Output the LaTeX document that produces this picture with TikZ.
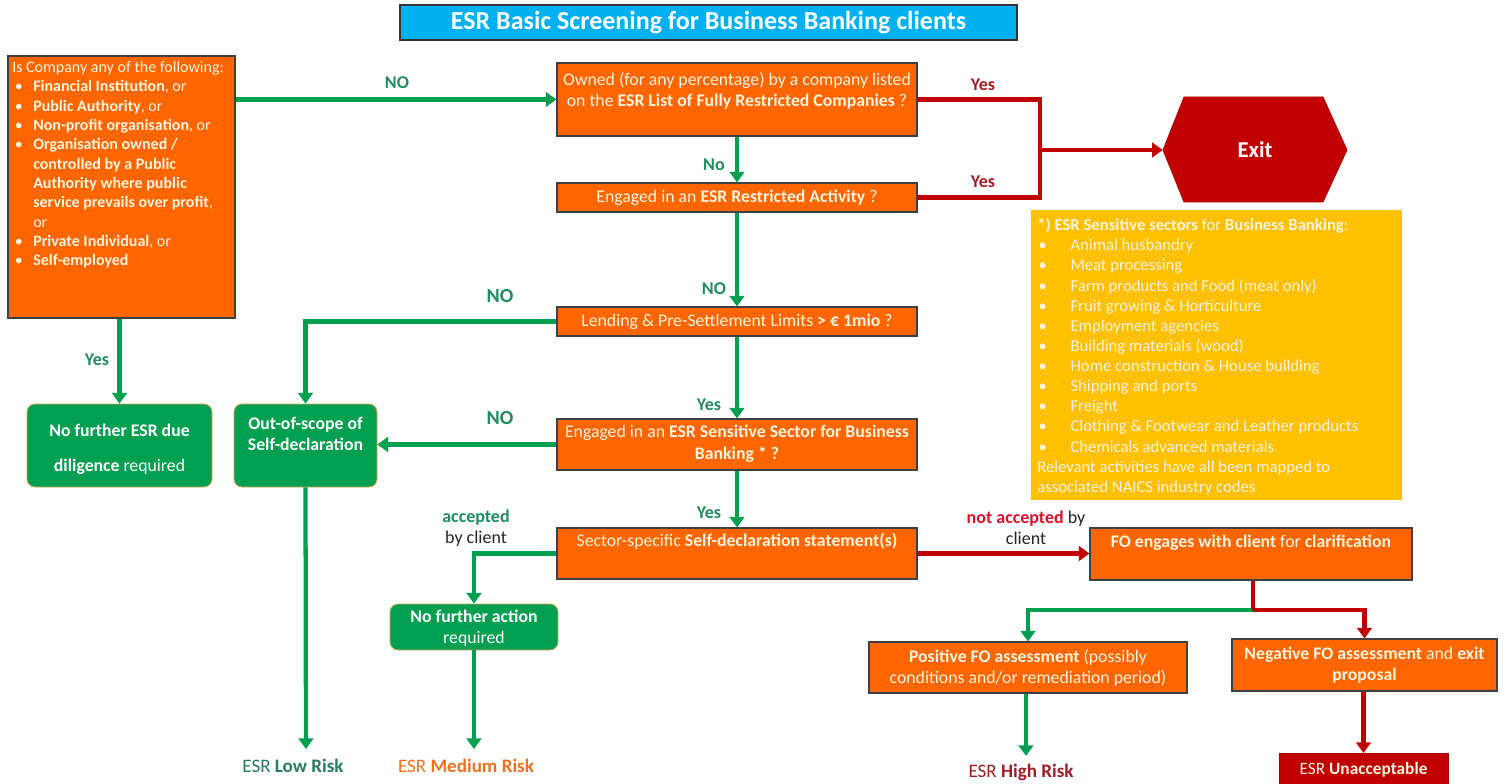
\documentclass[tikz,border=0pt]{standalone}
\usepackage{fontspec}
\setmainfont{Carlito}
\usetikzlibrary{arrows.meta,calc}
\definecolor{orgF}{RGB}{255,102,0}
\definecolor{grn}{RGB}{0,160,80}
\definecolor{gbor}{RGB}{214,170,80}
\definecolor{cream}{RGB}{255,244,222}
\definecolor{lgreen}{RGB}{32,140,96}
\definecolor{dred}{RGB}{192,0,0}
\definecolor{lred}{RGB}{160,30,40}
\definecolor{brred}{RGB}{220,16,40}
\definecolor{yel}{RGB}{255,192,0}
\definecolor{cyanT}{RGB}{0,176,240}
\definecolor{medorg}{RGB}{240,112,32}
\definecolor{lowgrn}{RGB}{40,125,95}
\newcommand{\bl}{\makebox[15.75pt][l]{\hspace{2pt}•}}
\newcommand{\blY}{\makebox[25pt][l]{\hspace{1pt}•}}
\tikzset{
  obox/.style={draw=black!75, fill=orgF, line width=0.8pt, inner sep=0pt},
  gbox/.style={draw=gbor, fill=grn, rounded corners=6pt, line width=0.6pt, inner sep=0pt},
  otext/.style={text=cream, font=\fontsize{13.3}{15.5}\selectfont, align=center, inner sep=0pt},
  gtext/.style={text=white, font=\bfseries\fontsize{13.3}{16}\selectfont, align=center, inner sep=0pt},
  glab/.style={text=lgreen, font=\bfseries\fontsize{13.5}{16}\selectfont, inner sep=0pt},
  rlab/.style={text=lred, font=\bfseries\fontsize{13.5}{16}\selectfont, inner sep=0pt},
  blab/.style={text=black!85, font=\fontsize{13.5}{16}\selectfont, inner sep=0pt, align=center},
  gline/.style={draw=grn, line width=3.2pt},
  rline/.style={draw=dred, line width=3.2pt},
  garrow/.style={gline, -{Triangle[length=8pt,width=11pt]}},
  rarrow/.style={rline, -{Triangle[length=8pt,width=11pt]}},
  outlab/.style={inner sep=0pt, font=\fontsize{14.3}{16}\selectfont},
}
\begin{document}
\begin{tikzpicture}[x=0.75pt,y=-0.75pt]
\useasboundingbox (0,0) rectangle (1510,784);
\fill[white] (0,0) rectangle (1510,784);

% title
\node[draw=black!80, fill=cyanT, line width=0.8pt, minimum width=462.75pt, minimum height=26.25pt, inner sep=0pt,
  text=white, font=\bfseries\fontsize{19.5}{22}\selectfont] (title) at (708.5,22.5) {ESR Basic Screening for Business Banking clients};

% left box
\node[obox, minimum width=170.25pt, minimum height=196.5pt] (left) at (121.5,187) {};
\node[text=cream, font=\fontsize{12}{14.5}\selectfont, align=left, inner sep=0pt, anchor=north west] (lefttxt) at (12,61) {%
Is Company any of the following:\\
\bl\textbf{Financial Institution}, or\\
\bl\textbf{Public Authority}, or\\
\bl\textbf{Non-profit organisation}, or\\
\bl\textbf{Organisation owned /}\\
\hspace*{15.75pt}\textbf{controlled by a Public}\\
\hspace*{15.75pt}\textbf{Authority where public}\\
\hspace*{15.75pt}\textbf{service prevails over profit},\\
\hspace*{15.75pt}or\\
\bl\textbf{Private Individual}, or\\
\bl\textbf{Self-employed}};

% main column boxes
\node[obox, minimum width=270pt, minimum height=54.75pt] (A) at (737,99.5) {};
\node[otext] (Atxt) at (737,91) {Owned (for any percentage) by a company listed\\ on the \textbf{ESR List of Fully Restricted Companies} ?};
\node[obox, minimum width=270pt, minimum height=21.75pt] (B) at (737,197.5) {};
\node[otext] (Btxt) at (737,198) {Engaged in an \textbf{ESR Restricted Activity} ?};
\node[obox, minimum width=270pt, minimum height=21.75pt] (C) at (737,321.5) {};
\node[otext] (Ctxt) at (737,322) {Lending \& Pre-Settlement Limits \textbf{> € 1mio} ?};
\node[obox, minimum width=270pt, minimum height=38.25pt] (D) at (737,444.5) {};
\node[otext, font=\fontsize{13.3}{16.5}\selectfont] (Dtxt) at (737,444) {Engaged in an \textbf{ESR Sensitive Sector for Business}\\ \textbf{Banking * ?}};
\node[obox, minimum width=270pt, minimum height=38.25pt] (E) at (737,553.5) {};
\node[otext] (Etxt) at (737,541) {Sector-specific \textbf{Self-declaration statement(s)}};

% right side boxes
\node[obox, minimum width=241.5pt, minimum height=39pt] (F) at (1251,554) {};
\node[otext] (Ftxt) at (1251,543) {\textbf{FO engages with client} for \textbf{clarification}};
\node[obox, minimum width=238.5pt, minimum height=38.25pt] (G) at (1028,667.5) {};
\node[otext] (Gtxt) at (1028,668) {\textbf{Positive FO assessment} (possibly\\ conditions and/or remediation period)};
\node[obox, minimum width=198.75pt, minimum height=39pt] (H) at (1364.5,665) {};
\node[otext] (Htxt) at (1364.5,665) {\textbf{Negative FO assessment} and \textbf{exit}\\ \textbf{proposal}};
\node[draw=dred!80!black, fill=dred, line width=0.6pt, minimum width=126.75pt, minimum height=24pt, inner sep=0pt,
  text=cream, font=\bfseries\fontsize{13}{15}\selectfont, anchor=north] (unacc) at (1363.5,753) {\textmd{ESR} Unacceptable};

% exit hexagon
\fill[dred, draw=red!70!black, line width=0.6pt] (1163,150) -- (1184,97) -- (1323,97) -- (1347,150) -- (1323,202) -- (1184,202) -- cycle;
\node[minimum width=138pt, minimum height=78pt, inner sep=0pt, text=white, font=\bfseries\fontsize{17}{20}\selectfont] (exit) at (1255,150) {Exit};

% yellow box
\node[fill=yel, minimum width=278.25pt, minimum height=217.5pt, inner sep=0pt] (yel) at (1216.5,355) {};
\node[text=cream, font=\fontsize{12.5}{15.1}\selectfont, align=left, inner sep=0pt, anchor=north west] (yeltxt) at (1037,218) {%
\textbf{*) ESR Sensitive sectors} for \textbf{Business Banking}:\\
\blY Animal husbandry\\
\blY Meat processing\\
\blY Farm products and Food (meat only)\\
\blY Fruit growing \& Horticulture\\
\blY Employment agencies\\
\blY Building materials (wood)\\
\blY Home construction \& House building\\
\blY Shipping and ports\\
\blY Freight\\
\blY Clothing \& Footwear and Leather products\\
\blY Chemicals advanced materials\\
Relevant activities have all been mapped to\\
associated NAICS industry codes};

% green boxes
\node[gbox, minimum width=138.75pt, minimum height=62.25pt] (g1) at (119.5,445.5) {};
\node[gtext] (g1txt) at (119.5,449) {No further ESR due\\[10pt] diligence \textmd{required}};
\node[gbox, minimum width=107.25pt, minimum height=62.25pt] (oos) at (305.5,445.5) {};
\node[gtext] (oostxt) at (305.5,434) {Out-of-scope of\\ Self-declaration};
\node[gbox, minimum width=126pt, minimum height=34.5pt] (nfa) at (474,627) {};
\node[gtext] (nfatxt) at (474,628) {No further action\\ \textmd{required}};

% outcome labels
\node[outlab, text=lowgrn] (low) at (293,766) {ESR \textbf{Low Risk}};
\node[outlab, text=medorg] (med) at (466,766) {ESR \textbf{Medium Risk}};
\node[outlab, text=lred] (high) at (1021,772) {ESR \textbf{High Risk}};

% coordinates
\coordinate (ryes) at (1040,150);
\coordinate (br) at (1253,610);
\coordinate (lowend) at (306,749);
\coordinate (medend) at (474,749);
\coordinate (highend) at (1026,756);

% connectors
\draw[garrow] (left.east |- A.west) -- (A.west);
\draw[garrow] (left.south -| g1.north) -- (g1.north);
\draw[garrow] (A.south) -- (B.north);
\draw[rline] (A.east) -| (ryes);
\draw[rline] (B.east) -| (ryes);
\draw[rarrow] (ryes) -- (exit.west);
\draw[garrow] (B.south) -- (C.north);
\draw[garrow] (C.west) -| (oos.north);
\draw[garrow] (C.south) -- (D.north);
\draw[garrow] (D.west) -- (D.west -| oos.east);
\draw[garrow] (D.south) -- (E.north);
\draw[garrow] (E.west) -| (nfa.north);
\draw[rarrow] (E.east) -- (E.east -| F.west);
\draw[garrow] (br) -| (G.north);
\draw[rline] (F.south -| br) -- (br);
\draw[rarrow] (br) -| (H.north);
\draw[garrow] (oos.south) -- (lowend);
\draw[garrow] (nfa.south) -- (medend);
\draw[garrow] (G.south -| highend) -- (highend);
\draw[rarrow] (H.south -| unacc.north) -- (unacc.north);

% connector labels
\node[glab] (l1) at (397,83) {NO};
\node[glab] (l2) at (97,360) {Yes};
\node[glab] (l3) at (714,165) {No};
\node[rlab] (l4) at (983,85) {Yes};
\node[rlab] (l5) at (983,182) {Yes};
\node[glab] (l6) at (714,289) {NO};
\node[glab, font=\bfseries\fontsize{15}{17}\selectfont] (l7) at (500,296) {NO};
\node[glab] (l8) at (709,405) {Yes};
\node[glab, font=\bfseries\fontsize{15}{17}\selectfont] (l9) at (500,418) {NO};
\node[glab] (l10) at (709,513) {Yes};
\node[blab] (l11) at (476,528) {\textcolor{lgreen}{\textbf{accepted}}\\ by client};
\node[blab] (l12) at (1026,528) {\textcolor{brred}{\textbf{not accepted}} by\\ client};
\end{tikzpicture}
\end{document}
